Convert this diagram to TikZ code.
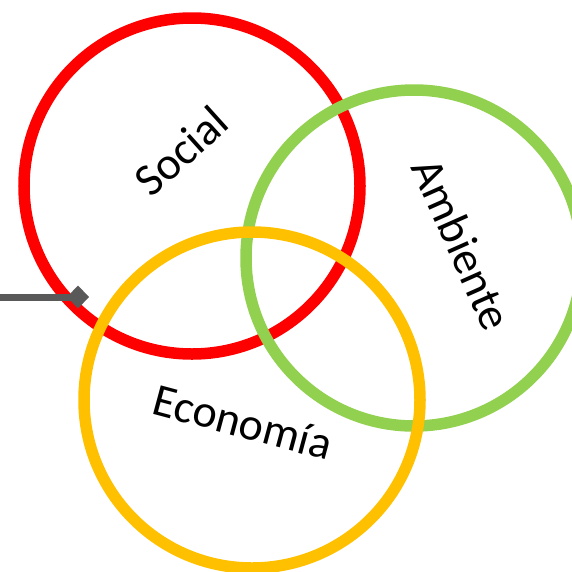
\documentclass[tikz,border=0pt]{standalone}
\usepackage{fontspec}
\setmainfont{Carlito}
\usetikzlibrary{arrows.meta}
\definecolor{socialred}{HTML}{FF0000}
\definecolor{ambgreen}{HTML}{92D050}
\definecolor{ecoyellow}{HTML}{FFC000}
\definecolor{arrowgray}{HTML}{595959}

\begin{document}
\begin{tikzpicture}[
  x=1pt, y=-1pt,
  ring/.style={draw, circle, line width=11.5pt, minimum size=336pt, inner sep=0pt},
  lbl/.style={font=\fontsize{46}{52}\selectfont, inner sep=0pt}
]
\useasboundingbox (0,0) rectangle (572,571);
\clip (0,0) rectangle (572,571);

% the three rings
\node[ring, draw=socialred] (social) at (192,186) {};
\node[ring, draw=ambgreen] (ambiente) at (414,258) {};
\node[ring, draw=ecoyellow] (economia) at (252,400) {};

% labels
\node[lbl, rotate=42] (lsocial) at (181,151) {Social};
\node[lbl, rotate=-66] (lambiente) at (462,244) {Ambiente};
\node[lbl, rotate=-15] (leconomia) at (243,422) {Economía};

% incoming connector
\coordinate (src) at (-5,297);
\coordinate (tip) at (89,297);
\draw[arrowgray, line width=7pt, -{Turned Square[length=22pt, width=23pt]}] (src) -- (tip);
\end{tikzpicture}
\end{document}
